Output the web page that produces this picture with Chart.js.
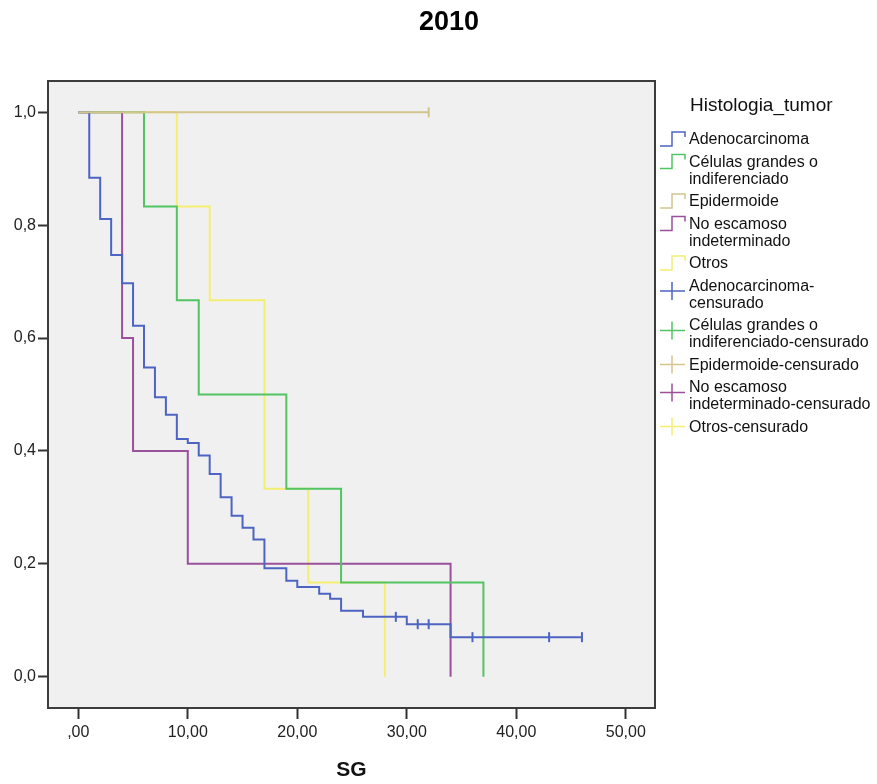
<!DOCTYPE html>
<html lang="es">
<head>
  <meta charset="UTF-8" />
  <title>2010 - SG por Histologia_tumor</title>
  <script src="https://cdn.jsdelivr.net/npm/chart.js"></script>
  <style>
    html, body { margin: 0; padding: 0; background: #fff; }
  </style>
</head>
<body>
  <canvas id="kmChart" width="877" height="784"></canvas>

  <script>
    // Curvas de supervivencia (SG) por histología
    const titulo = "2010";
    const tituloLeyenda = "Histologia_tumor";
    const grupos = ["Adenocarcinoma", "Células grandes o indiferenciado", "Epidermoide", "No escamoso indeterminado", "Otros"];
    const colores = ["#4d64c2", "#52c463", "#d2c58e", "#9a509a", "#f4ee72"];

    const adenoT = [0, 1, 2, 3, 4, 5, 6, 7, 8, 9, 10, 11, 12, 13, 14, 15, 16, 17, 19, 20, 22, 23, 24, 26, 30, 34, 46];
    const adenoS = [1, 0.884, 0.811, 0.747, 0.697, 0.622, 0.548, 0.495, 0.464, 0.421, 0.414, 0.392, 0.359, 0.318, 0.285, 0.264, 0.243, 0.192, 0.170, 0.159, 0.147, 0.138, 0.117, 0.106, 0.093, 0.070, 0.070];
    const celT = [0, 6, 9, 11, 19, 24, 37];
    const celS = [1, 0.833, 0.667, 0.5, 0.333, 0.167, 0];
    const epiT = [0, 32];
    const epiS = [1, 1];
    const noEscT = [0, 4, 5, 10, 34];
    const noEscS = [1, 0.6, 0.4, 0.2, 0];
    const otrosT = [0, 9, 12, 17, 21, 28];
    const otrosS = [1, 0.833, 0.667, 0.333, 0.167, 0];

    // casos censurados
    const adenoCensT = [29, 31, 32, 36, 43, 46];
    const adenoCensS = [0.106, 0.093, 0.093, 0.070, 0.070, 0.070];
    const epiCensT = [32];
    const epiCensS = [1];

    const xTicks = [0, 10, 20, 30, 40, 50];
    const yTicks = [0, 0.2, 0.4, 0.6, 0.8, 1.0];

    const curvas = [[adenoT, adenoS], [celT, celS], [epiT, epiS], [noEscT, noEscS], [otrosT, otrosS]];
    const censurados = [[adenoCensT, adenoCensS], [[], []], [epiCensT, epiCensS], [[], []], [[], []]];

    function puntos(t, s) {
      return t.map((v, i) => ({ x: v, y: s[i] }));
    }

    const datasets = [];
    grupos.forEach((g, i) => {
      datasets.push({
        label: g,
        data: puntos(curvas[i][0], curvas[i][1]),
        borderColor: colores[i],
        borderWidth: 2,
        stepped: "before",
        pointRadius: 0,
        fill: false,
        order: g === "Epidermoide" ? 0 : 1   // la línea de Epidermoide queda encima, como en SPSS
      });
    });
    grupos.forEach((g, i) => {
      datasets.push({
        label: g + "-censurado",
        data: puntos(censurados[i][0], censurados[i][1]),
        showLine: false,
        pointStyle: "line",
        pointRotation: 90,
        pointRadius: 5,
        pointHoverRadius: 5,
        pointBorderWidth: 2,
        pointBorderColor: colores[i],
        borderColor: colores[i],
        order: 0
      });
    });

    // parte el texto de la leyenda en varias líneas
    function partir(ctx, texto, ancho) {
      const piezas = [];
      texto.split(" ").forEach((w, i) => {
        w.split(/(?<=-)/).forEach((p, j) => piezas.push((i > 0 && j === 0 ? " " : "") + p));
      });
      const lineas = [];
      let actual = "";
      piezas.forEach(p => {
        const prueba = actual + p;
        if (actual && ctx.measureText(prueba).width > ancho) {
          lineas.push(actual);
          actual = p.trimStart();
        } else {
          actual = prueba;
        }
      });
      lineas.push(actual);
      return lineas;
    }

    const fuente = '"Liberation Sans", Arial, sans-serif';

    const marcoSPSS = {
      id: "marcoSPSS",
      beforeDraw(chart) {
        const { ctx, chartArea: a } = chart;
        ctx.save();
        ctx.fillStyle = "#fff";
        ctx.fillRect(0, 0, chart.width, chart.height);
        ctx.fillStyle = "#f0f0f0";
        ctx.fillRect(a.left, a.top, a.right - a.left, a.bottom - a.top);
        ctx.restore();
      },
      afterDraw(chart) {
        const { ctx, chartArea: a } = chart;
        ctx.save();
        // marco
        ctx.strokeStyle = "#3c3c3c";
        ctx.lineWidth = 2;
        ctx.strokeRect(a.left, a.top, a.right - a.left, a.bottom - a.top);

        // título
        ctx.fillStyle = "#000";
        ctx.font = "bold 27px " + fuente;
        ctx.textAlign = "center";
        ctx.textBaseline = "middle";
        ctx.fillText(titulo, 449, 23);

        // leyenda
        ctx.textAlign = "left";
        ctx.fillStyle = "#111";
        ctx.font = "19px " + fuente;
        ctx.fillText(tituloLeyenda, 690, 106);
        ctx.font = "16px " + fuente;
        const items = [];
        grupos.forEach((g, i) => items.push({ texto: g, color: colores[i], cens: false }));
        grupos.forEach((g, i) => items.push({ texto: g + "-censurado", color: colores[i], cens: true }));
        let y = 140;
        items.forEach(it => {
          const lineas = partir(ctx, it.texto, 186);
          ctx.fillStyle = "#111";
          lineas.forEach((l, k) => ctx.fillText(l, 689, y + k * 17));
          ctx.strokeStyle = it.color;
          ctx.lineWidth = 1.5;
          ctx.beginPath();
          if (!it.cens) {
            ctx.moveTo(660, y + 6);
            ctx.lineTo(672, y + 6);
            ctx.lineTo(672, y - 8);
            ctx.lineTo(685, y - 8);
            ctx.lineTo(685, y - 3);
          } else {
            const yc = y + (lineas.length - 1) * 5.5 - 1;
            ctx.moveTo(660, yc);
            ctx.lineTo(685, yc);
            ctx.moveTo(672, yc - 9);
            ctx.lineTo(672, yc + 9);
          }
          ctx.stroke();
          y += lineas.length * 17 + 5.5;
        });
        ctx.restore();
      }
    };

    const ctx = document.getElementById("kmChart").getContext("2d");
    new Chart(ctx, {
      type: "line",
      data: { datasets: datasets },
      plugins: [marcoSPSS],
      options: {
        responsive: false,
        animation: false,
        events: [],
        layout: { padding: { top: 81, right: 222, left: 0, bottom: 0 } },
        plugins: {
          legend: { display: false },
          title: { display: false },
          tooltip: { enabled: false }
        },
        scales: {
          x: {
            type: "linear",
            min: -2.767,
            max: 52.67,
            afterBuildTicks: s => { s.ticks = xTicks.map(v => ({ value: v })); },
            afterFit: s => { s.height = 76; },
            border: { display: false },
            grid: { drawOnChartArea: false, drawTicks: true, tickLength: 11, tickColor: "#333", tickWidth: 2 },
            ticks: {
              autoSkip: false,
              maxRotation: 0,
              padding: 4,
              color: "#222",
              font: { family: fuente, size: 16 },
              callback: v => v === 0 ? ",00" : v.toFixed(2).replace(".", ",")
            },
            title: {
              display: true,
              text: "SG",
              color: "#111",
              font: { family: fuente, size: 21, weight: "bold" },
              padding: { top: 0, bottom: 1 }
            }
          },
          y: {
            type: "linear",
            min: -0.0555,
            max: 1.0555,
            afterBuildTicks: s => { s.ticks = yTicks.map(v => ({ value: v })); },
            afterFit: s => { s.width = 48; },
            border: { display: false },
            grid: { drawOnChartArea: false, drawTicks: true, tickLength: 10, tickColor: "#333", tickWidth: 2 },
            ticks: {
              padding: 2,
              color: "#222",
              font: { family: fuente, size: 16 },
              callback: v => v.toFixed(1).replace(".", ",")
            }
          }
        }
      }
    });
  </script>
</body>
</html>
